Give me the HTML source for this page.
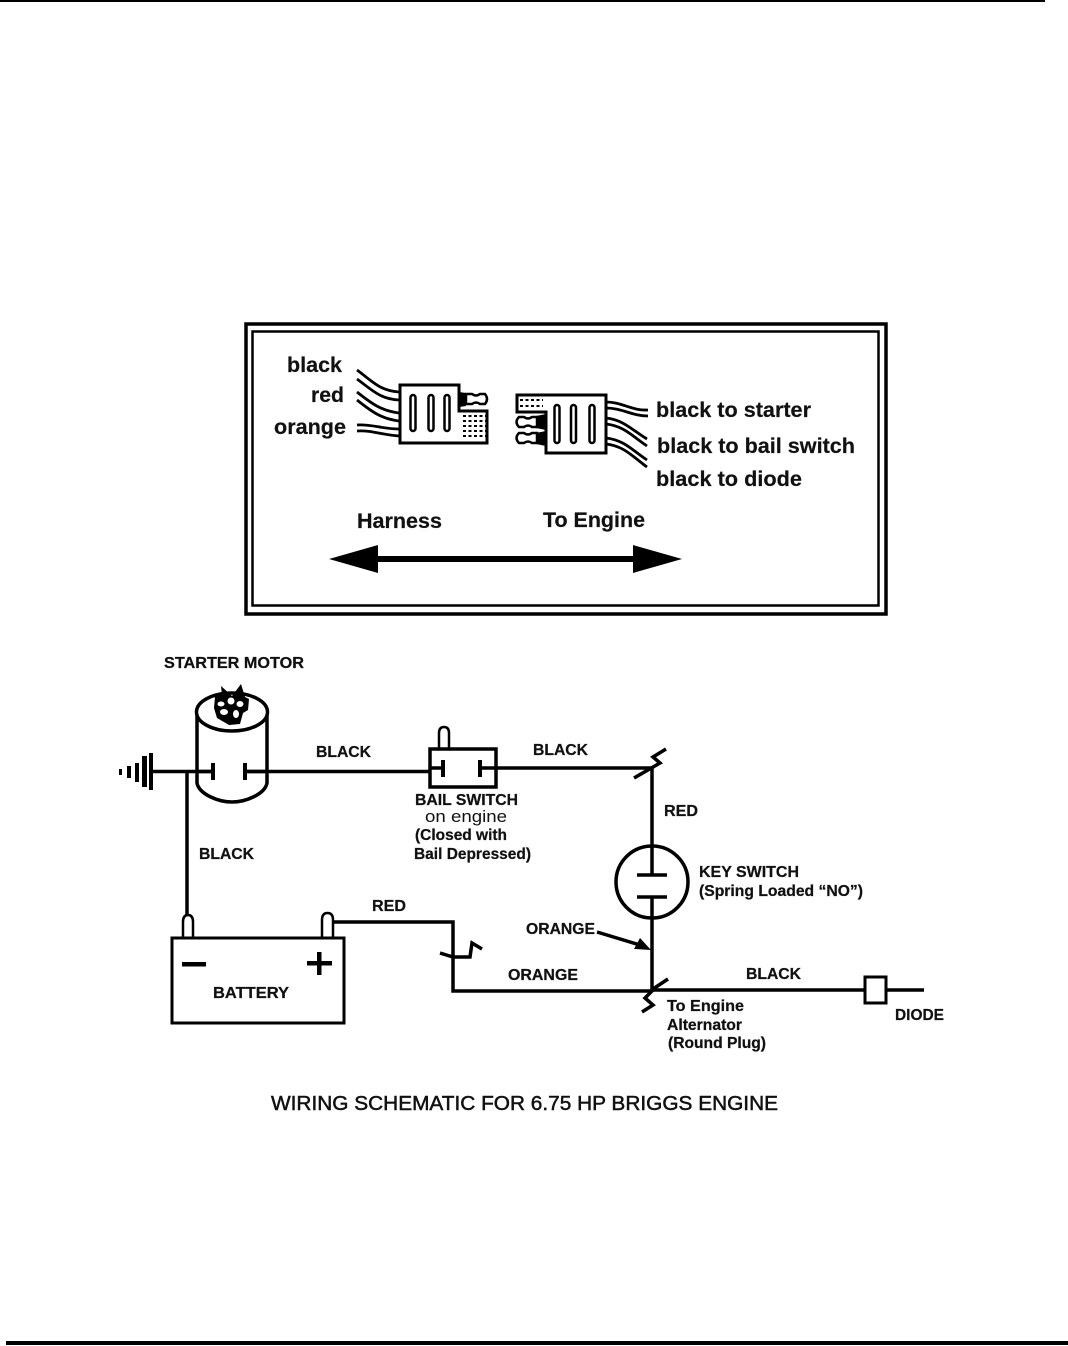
<!DOCTYPE html>
<html>
<head>
<meta charset="utf-8">
<style>
html,body{margin:0;padding:0;background:#fff}
svg{display:block}
text{font-family:"Liberation Sans",sans-serif;fill:#111}
.b{font-weight:bold}
.u{font-size:21px;stroke:#111;stroke-width:.2px}
.s{font-size:16px;font-weight:bold;stroke:#111;stroke-width:.25px}
</style>
</head>
<body>
<svg xmlns="http://www.w3.org/2000/svg" width="1068" height="1346" viewBox="0 0 1068 1346">
<rect width="1068" height="1346" fill="#fff"/>
<rect x="0" y="0" width="1045" height="2" fill="#000"/>
<rect x="6" y="1341" width="1062" height="4" fill="#000"/>

<!-- Frame -->
<rect x="246" y="324" width="640" height="290" fill="none" stroke="#000" stroke-width="3.500"/>
<rect x="252.500" y="331.500" width="626" height="274" fill="none" stroke="#000" stroke-width="2.500"/>

<!-- Upper labels -->
<text class="u b" x="287" y="372" textLength="55" lengthAdjust="spacingAndGlyphs">black</text>
<text class="u b" x="311" y="402" textLength="33" lengthAdjust="spacingAndGlyphs">red</text>
<text class="u b" x="274" y="434" textLength="72" lengthAdjust="spacingAndGlyphs">orange</text>
<text class="u b" x="656" y="417" textLength="155" lengthAdjust="spacingAndGlyphs">black to starter</text>
<text class="u b" x="657" y="453" textLength="198" lengthAdjust="spacingAndGlyphs">black to bail switch</text>
<text class="u b" x="656" y="486" textLength="146" lengthAdjust="spacingAndGlyphs">black to diode</text>
<text class="u b" x="357" y="528" textLength="85" lengthAdjust="spacingAndGlyphs">Harness</text>
<text class="u b" x="543" y="527" textLength="102" lengthAdjust="spacingAndGlyphs">To Engine</text>

<!-- Left connector -->
<g style="fill:none;stroke:#000;stroke-width:2.800">
<path d="M357 370C372 381 380 391 399 392"/>
<path d="M357 379C372 390 380 399 399 400"/>
<path d="M357 392C372 404 382 411 399 413"/>
<path d="M357 400C372 412 382 419 399 421"/>
<path d="M357 425C372 424 382 429 399 429"/>
<path d="M357 431C372 430 382 435 399 436"/>
</g>
<path d="M400 385H459V411H487V443H400Z" fill="#fff" stroke="#000" stroke-width="3"/>
<rect x="410.500" y="395" width="5" height="36" rx="2.500" fill="#fff" stroke="#000" stroke-width="2.500"/>
<rect x="428.500" y="395" width="5" height="36" rx="2.500" fill="#fff" stroke="#000" stroke-width="2.500"/>
<rect x="444.500" y="395" width="5" height="36" rx="2.500" fill="#fff" stroke="#000" stroke-width="2.500"/>
<path d="M459 392L466 393V406L459 407Z" fill="#000"/>
<path d="M466 394H472Q476 397 480 394H485Q489 399 485 404H480Q476 401 472 404H466Z" fill="#fff" stroke="#000" stroke-width="2.500"/>
<path d="M463 416H486M463 421H486M463 426H486M463 431H486M463 436H486" stroke="#000" stroke-width="2" stroke-dasharray="3 2.500" fill="none"/>

<!-- Right connector -->
<g style="fill:none;stroke:#000;stroke-width:2.800">
<path d="M606 402C622 402 632 411 648 410"/>
<path d="M606 408C622 408 632 416 648 416"/>
<path d="M606 418C624 420 632 430 647 439"/>
<path d="M606 424C624 426 632 436 647 446"/>
<path d="M606 438C624 440 632 450 647 460"/>
<path d="M606 444C624 446 632 456 647 467"/>
</g>
<path d="M517 395H606V453H546V412H517Z" fill="#fff" stroke="#000" stroke-width="3"/>
<rect x="554.500" y="405" width="5" height="38" rx="2.500" fill="#fff" stroke="#000" stroke-width="2.500"/>
<rect x="571" y="405" width="5" height="38" rx="2.500" fill="#fff" stroke="#000" stroke-width="2.500"/>
<rect x="589.500" y="405" width="5" height="38" rx="2.500" fill="#fff" stroke="#000" stroke-width="2.500"/>
<path d="M520 400H543M520 406H543" stroke="#000" stroke-width="2" stroke-dasharray="3 2.500" fill="none"/>
<path d="M546 414L536 416V428L546 430Z" fill="#000"/>
<path d="M546 431L536 433V444L546 446Z" fill="#000"/>
<path d="M537 417H532Q528 420 524 417H519Q514 422 519 427H524Q528 424 532 427H537Z" fill="#fff" stroke="#000" stroke-width="2.500"/>
<path d="M537 433H532Q528 436 524 433H519Q514 438 519 443H524Q528 440 532 443H537Z" fill="#fff" stroke="#000" stroke-width="2.500"/>

<!-- Double arrow -->
<rect x="370" y="556" width="270" height="6" fill="#000"/>
<path d="M329 559L378 545V573Z" fill="#000"/>
<path d="M682 559L633 545V573Z" fill="#000"/>

<!-- Wiring -->
<g style="fill:none;stroke:#000;stroke-width:3.500">
<path d="M150 771.500H213"/>
<path d="M244 771.500H429"/>
<path d="M480 768H652"/>
<path d="M187 771V915"/>
<path d="M652 768V875"/>
<path d="M652 897V990"/>
<path d="M333 922H453V991H652"/>
<path d="M652 990H924"/>
<path d="M634 778L660 763L653 757L666 749"/>
<path d="M653 989L668 979"/>
<path d="M653 990L645 998L653 1005L642 1012"/>
<path d="M440 953L453 957H470L472 943L482 949"/>
<path d="M597 932L640 945"/>
</g>
<path d="M651 950L634 949L640 938Z" fill="#000"/>

<!-- Ground -->
<rect x="149" y="753" width="4" height="37" fill="#000"/>
<g fill="#000">
<rect x="142" y="756" width="5" height="31"/>
<rect x="135" y="763" width="4" height="19"/>
<rect x="127" y="766" width="4" height="12"/>
<rect x="119" y="769" width="3" height="6"/>
</g>

<!-- Starter -->
<path d="M197 712V783C199 794 218 802 232 802C246 802 265 794 267 783V712" fill="none" stroke="#000" stroke-width="3.500"/>
<ellipse cx="232" cy="712" rx="35.500" ry="19" fill="#fff" stroke="#000" stroke-width="3.500"/>
<path d="M197 771.500H213M244 771.500H267" stroke="#000" stroke-width="3.500"/>
<rect x="211" y="763" width="4" height="17" fill="#000"/>
<rect x="243" y="763" width="4" height="17" fill="#000"/>
<path d="M215 697L222 695L221 686L232 696L241 684L245 697L249 699L248 710L243 713L240 724L229 725L217 718L214 708Z" fill="#000"/>
<circle cx="231" cy="701" r="3.500" fill="#fff"/>
<ellipse cx="221" cy="704" rx="3.500" ry="2.500" fill="#fff"/>
<ellipse cx="240" cy="704" rx="3.500" ry="3" fill="#fff"/>
<ellipse cx="224" cy="712" rx="4" ry="3" fill="#fff"/>
<ellipse cx="236" cy="714" rx="3" ry="4" fill="#fff"/>

<!-- Bail switch -->
<path d="M439 748V733Q439 727 444 727Q449 727 449 733V748" fill="#fff" stroke="#000" stroke-width="2.500"/>
<rect x="430" y="749" width="66" height="38" fill="#fff" stroke="#000" stroke-width="3.500"/>
<path d="M430 768H443M480 768H496" stroke="#000" stroke-width="3.500"/>
<rect x="441" y="760" width="4" height="17" fill="#000"/>
<rect x="478" y="760" width="4" height="17" fill="#000"/>

<!-- Key switch -->
<circle cx="652" cy="882" r="36" fill="#fff" stroke="#000" stroke-width="3.500"/>
<path d="M652 846V875M652 897V918" stroke="#000" stroke-width="3.500"/>
<path d="M637 875H667M637 897H667" stroke="#000" stroke-width="3.500"/>

<!-- Battery -->
<path d="M183 938V922Q183 915 188 915Q193 915 193 922V938" fill="#fff" stroke="#000" stroke-width="2.500"/>
<path d="M322 938V920Q322 913 327.500 913Q333 913 333 920V938" fill="#fff" stroke="#000" stroke-width="2.500"/>
<rect x="172" y="938" width="172" height="85" fill="#fff" stroke="#000" stroke-width="3"/>
<rect x="182" y="962" width="24" height="4.500" fill="#000"/>
<rect x="307" y="961" width="25" height="4.500" fill="#000"/>
<rect x="317" y="952" width="4.500" height="23" fill="#000"/>

<!-- Diode -->
<rect x="865" y="977" width="21" height="26" fill="#fff" stroke="#000" stroke-width="3"/>

<!-- Lower labels -->
<text class="s" x="164" y="668" textLength="140" lengthAdjust="spacingAndGlyphs">STARTER MOTOR</text>
<text class="s" x="316" y="757" textLength="55" lengthAdjust="spacingAndGlyphs">BLACK</text>
<text class="s" x="533" y="755" textLength="55" lengthAdjust="spacingAndGlyphs">BLACK</text>
<text class="s" x="664" y="816" textLength="34" lengthAdjust="spacingAndGlyphs">RED</text>
<text class="s" x="199" y="859" textLength="55" lengthAdjust="spacingAndGlyphs">BLACK</text>
<text class="s" x="415" y="805" textLength="103" lengthAdjust="spacingAndGlyphs">BAIL SWITCH</text>
<text x="425" y="822" font-size="17" textLength="82" lengthAdjust="spacingAndGlyphs">on engine</text>
<text class="s" x="415" y="840" textLength="92" lengthAdjust="spacingAndGlyphs">(Closed with</text>
<text class="s" x="414" y="859" textLength="117" lengthAdjust="spacingAndGlyphs">Bail Depressed)</text>
<text class="s" x="699" y="877" textLength="100" lengthAdjust="spacingAndGlyphs">KEY SWITCH</text>
<text class="s" x="699" y="896" textLength="164" lengthAdjust="spacingAndGlyphs">(Spring Loaded “NO”)</text>
<text class="s" x="372" y="911" textLength="34" lengthAdjust="spacingAndGlyphs">RED</text>
<text class="s" x="526" y="934" textLength="69" lengthAdjust="spacingAndGlyphs">ORANGE</text>
<text class="s" x="508" y="980" textLength="70" lengthAdjust="spacingAndGlyphs">ORANGE</text>
<text class="s" x="746" y="979" textLength="55" lengthAdjust="spacingAndGlyphs">BLACK</text>
<text class="s" x="213" y="998" textLength="76" lengthAdjust="spacingAndGlyphs">BATTERY</text>
<text class="s" x="667" y="1011" textLength="77" lengthAdjust="spacingAndGlyphs">To Engine</text>
<text class="s" x="667" y="1030" textLength="75" lengthAdjust="spacingAndGlyphs">Alternator</text>
<text class="s" x="668" y="1048" textLength="98" lengthAdjust="spacingAndGlyphs">(Round Plug)</text>
<text class="s" x="895" y="1020" textLength="49" lengthAdjust="spacingAndGlyphs">DIODE</text>
<text x="271" y="1110" font-size="20" stroke="#111" stroke-width=".5" textLength="507" lengthAdjust="spacingAndGlyphs">WIRING SCHEMATIC FOR 6.75 HP BRIGGS ENGINE</text>
</svg>
</body>
</html>
